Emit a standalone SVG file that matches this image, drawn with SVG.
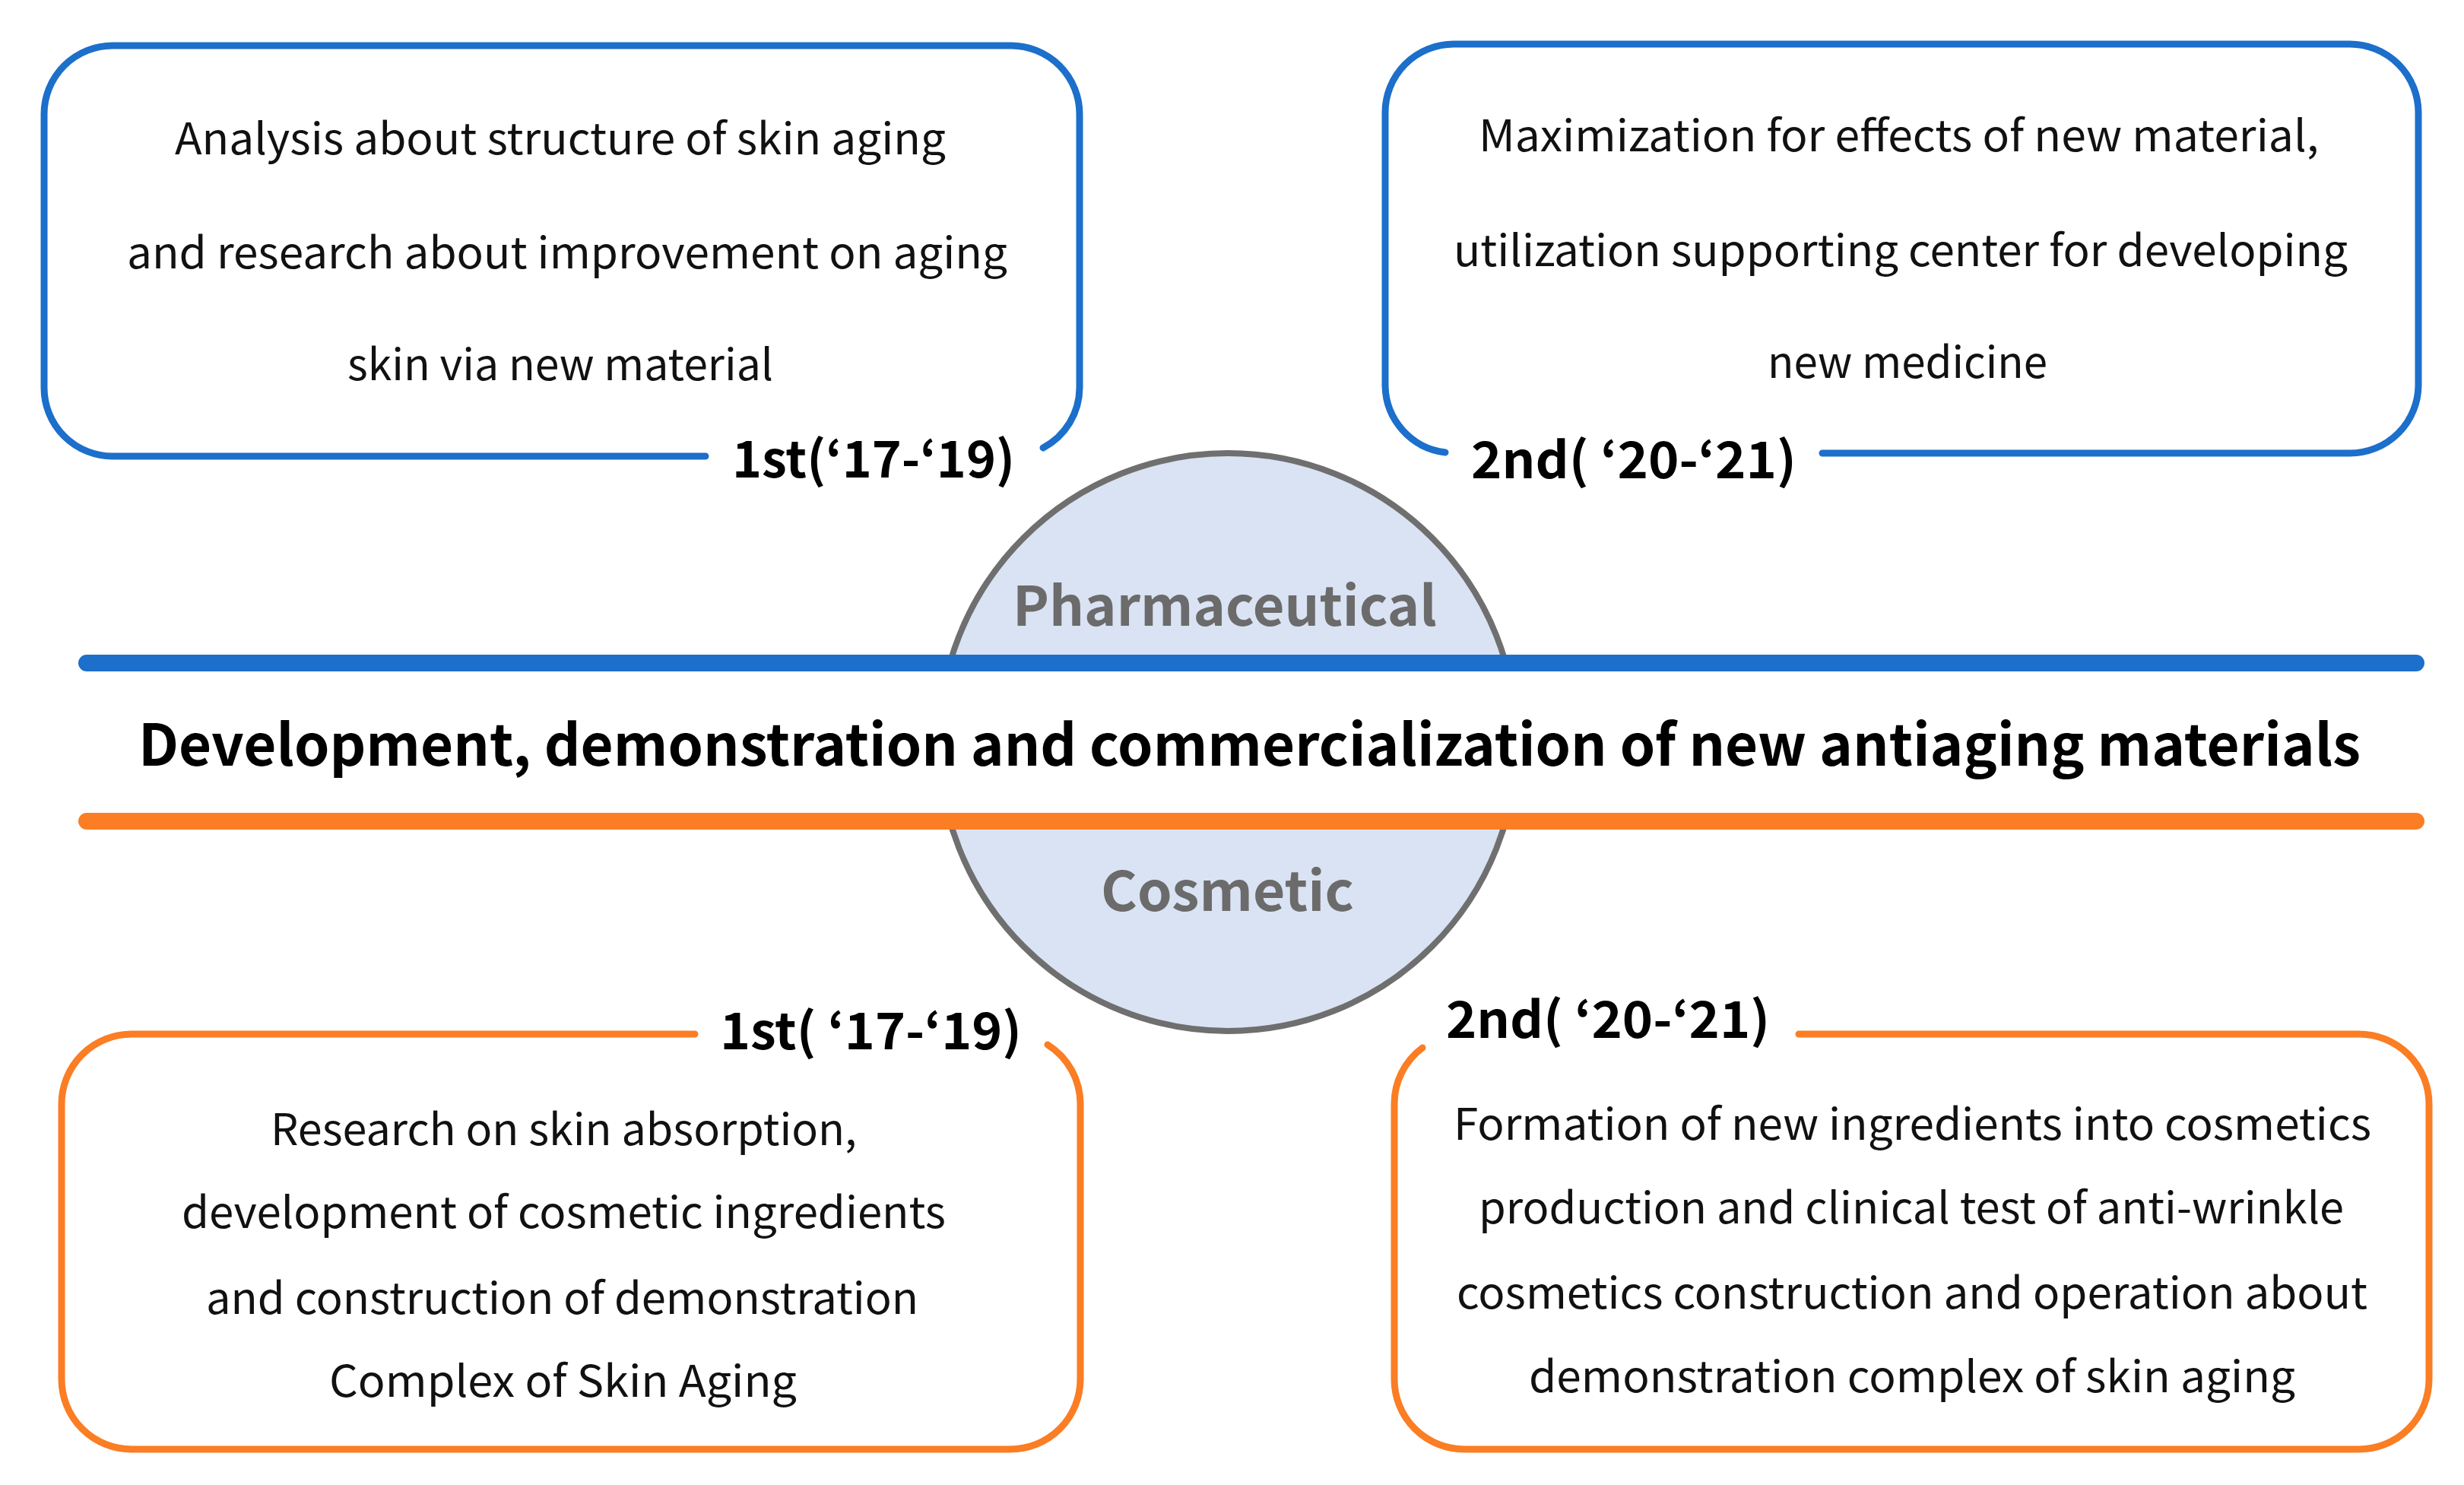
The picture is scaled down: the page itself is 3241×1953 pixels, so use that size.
<svg xmlns="http://www.w3.org/2000/svg" width="3241" height="1953" viewBox="0 0 3241 1953">
<style>
.box{fill:none;stroke-width:9;stroke-linecap:round;stroke-linejoin:round}
.blue{stroke:#1C6FCA}
.orange{stroke:#FB7D24}
.body{font-family:"Noto Sans CJK KR","Noto Sans",sans-serif;font-size:57px;fill:#111}
.lbl{font-family:"Noto Sans CJK KR","Noto Sans",sans-serif;font-size:66px;font-weight:bold;fill:#000}
.cat{font-family:"Noto Sans CJK KR","Noto Sans",sans-serif;font-size:72px;font-weight:bold;fill:#6B6B6B}
.title{font-family:"Noto Sans CJK KR","Noto Sans",sans-serif;font-size:75px;font-weight:bold;fill:#000}
.bar{stroke-width:22;stroke-linecap:round}
</style>
<rect x="0" y="0" width="3241" height="1953" fill="#FFFFFF"/>
<g id="center">
<circle cx="1615" cy="976" r="380" fill="#DAE3F3" stroke="#6F6F6F" stroke-width="8"/>
<rect x="1200" y="872" width="840" height="208" fill="#FFFFFF"/>
<text class="cat" x="1332" y="823" textLength="558" lengthAdjust="spacingAndGlyphs">Pharmaceutical</text>
<text class="cat" x="1448" y="1198" textLength="333" lengthAdjust="spacingAndGlyphs">Cosmetic</text>
</g>
<g id="connectors">
<line class="bar" x1="114" y1="872" x2="3178" y2="872" stroke="#1C6FCA"/>
<line class="bar" x1="114" y1="1080" x2="3178" y2="1080" stroke="#FB7D24"/>
</g>
<g id="title">
<text class="title" x="182" y="1007" textLength="2923" lengthAdjust="spacingAndGlyphs">Development, demonstration and commercialization of new antiaging materials</text>
</g>
<g id="pharma-1st">
<path class="box blue" d="M 928 600 H 148 A 90 90 0 0 1 58 510 V 150 A 90 90 0 0 1 148 60 H 1330 A 90 90 0 0 1 1420 150 V 510 A 90 90 0 0 1 1372 589"/>
<text class="body" x="230" y="203" textLength="1014" lengthAdjust="spacingAndGlyphs">Analysis about structure of skin aging</text>
<text class="body" x="167" y="353" textLength="1158" lengthAdjust="spacingAndGlyphs">and research about improvement on aging</text>
<text class="body" x="457" y="500" textLength="560" lengthAdjust="spacingAndGlyphs">skin via new material</text>
<text class="lbl" x="963" y="628" textLength="372" lengthAdjust="spacingAndGlyphs">1st(‘17-‘19)</text>
</g>
<g id="pharma-2nd">
<path class="box blue" d="M 2397 596 H 3091 A 90 90 0 0 0 3181 506 V 148 A 90 90 0 0 0 3091 58 H 1912 A 90 90 0 0 0 1822 148 V 506 A 90 90 0 0 0 1901 595"/>
<text class="body" x="1945" y="199" textLength="1105" lengthAdjust="spacingAndGlyphs">Maximization for effects of new material,</text>
<text class="body" x="1912" y="350" textLength="1176" lengthAdjust="spacingAndGlyphs">utilization supporting center for developing</text>
<text class="body" x="2325" y="497" textLength="368" lengthAdjust="spacingAndGlyphs">new medicine</text>
<text class="lbl" x="1935" y="629" textLength="428" lengthAdjust="spacingAndGlyphs">2nd( ‘20-‘21)</text>
</g>
<g id="cosmetic-1st">
<path class="box orange" d="M 914 1360 H 173 A 92 92 0 0 0 81 1452 V 1814 A 92 92 0 0 0 173 1906 H 1329 A 92 92 0 0 0 1421 1814 V 1452 A 92 92 0 0 0 1378 1374"/>
<text class="lbl" x="947" y="1380" textLength="397" lengthAdjust="spacingAndGlyphs">1st( ‘17-‘19)</text>
<text class="body" x="356" y="1506" textLength="771" lengthAdjust="spacingAndGlyphs">Research on skin absorption,</text>
<text class="body" x="239" y="1615" textLength="1005" lengthAdjust="spacingAndGlyphs">development of cosmetic ingredients</text>
<text class="body" x="271" y="1728" textLength="937" lengthAdjust="spacingAndGlyphs">and construction of demonstration</text>
<text class="body" x="433" y="1837" textLength="615" lengthAdjust="spacingAndGlyphs">Complex of Skin Aging</text>
</g>
<g id="cosmetic-2nd">
<path class="box orange" d="M 2366 1360 H 3103 A 92 92 0 0 1 3195 1452 V 1814 A 92 92 0 0 1 3103 1906 H 1926 A 92 92 0 0 1 1834 1814 V 1452 A 92 92 0 0 1 1871 1378"/>
<text class="lbl" x="1902" y="1365" textLength="426" lengthAdjust="spacingAndGlyphs">2nd( ‘20-‘21)</text>
<text class="body" x="1912" y="1499" textLength="1207" lengthAdjust="spacingAndGlyphs">Formation of new ingredients into cosmetics</text>
<text class="body" x="1945" y="1609" textLength="1138" lengthAdjust="spacingAndGlyphs">production and clinical test of anti-wrinkle</text>
<text class="body" x="1916" y="1721" textLength="1198" lengthAdjust="spacingAndGlyphs">cosmetics construction and operation about</text>
<text class="body" x="2011" y="1831" textLength="1008" lengthAdjust="spacingAndGlyphs">demonstration complex of skin aging</text>
</g>
</svg>
